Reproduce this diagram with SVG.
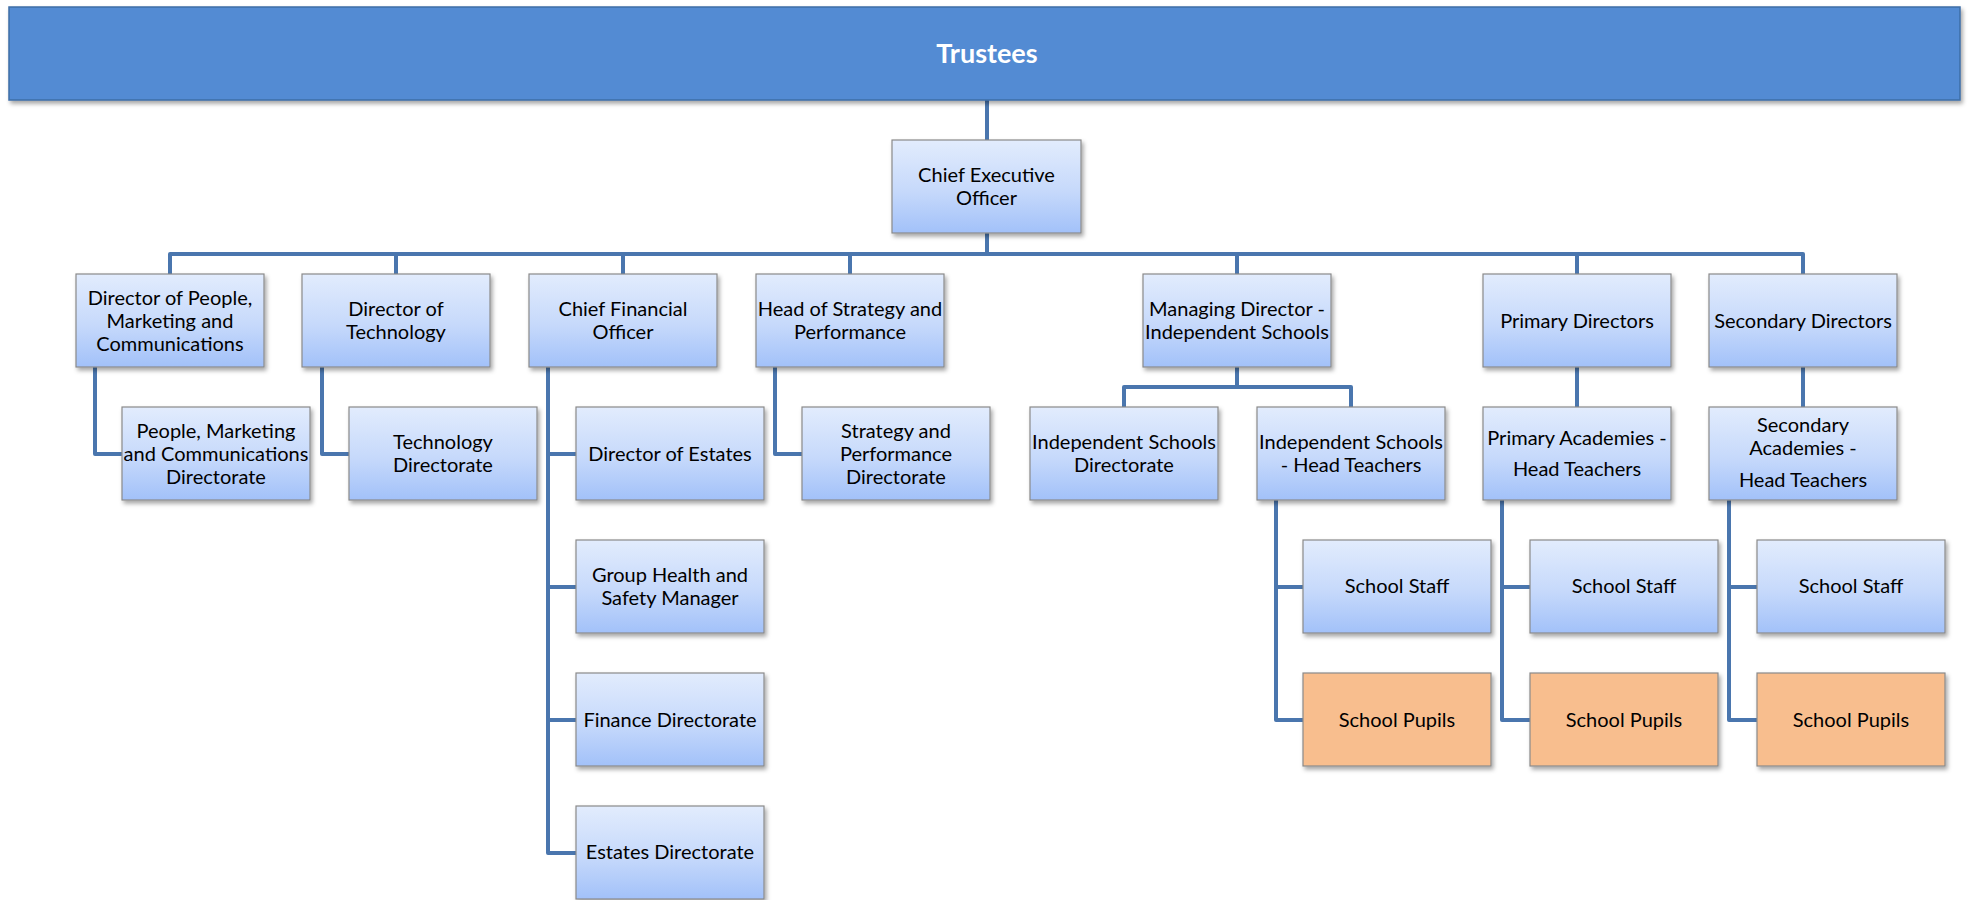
<svg xmlns="http://www.w3.org/2000/svg" width="1968" height="900" viewBox="0 0 1968 900">
  <defs>
    <linearGradient id="boxFill" x1="0" y1="0" x2="0" y2="1">
      <stop offset="0" stop-color="#E2ECFD"/>
      <stop offset="0.55" stop-color="#C6D9FB"/>
      <stop offset="1" stop-color="#A2C1F9"/>
    </linearGradient>
    <filter id="shadow" x="-10%" y="-10%" width="125%" height="135%">
      <feDropShadow dx="2" dy="3" stdDeviation="2" flood-color="#000" flood-opacity="0.35"/>
    </filter>
    <style>
      .box { fill: url(#boxFill); stroke: #8A8A8A; stroke-width: 1.2; filter: url(#shadow); }
      .pupils { fill: #F8BE8E; stroke: #8A8A8A; stroke-width: 1.2; filter: url(#shadow); }
      .top { fill: #538BD3; stroke: #3E6EA6; stroke-width: 1.5; filter: url(#shadow); }
      .lbl { font-family: Lato, "Liberation Sans", sans-serif; font-size: 20px; fill: #000; text-anchor: middle; }
      .title { font-family: Lato, "Liberation Sans", sans-serif; font-size: 27px; font-weight: bold; fill: #FFF; text-anchor: middle; }
      .wire { fill: none; stroke: #4A76AE; stroke-width: 4; stroke-linejoin: round; }
    </style>
  </defs>
  <rect width="1968" height="900" fill="#FFF"/>

  <!-- reporting lines, drawn under the boxes -->
  <g id="connectors" class="wire">
    <path d="M987,100 V140"/>
    <path d="M987,233 V254"/>
    <path d="M170,274 V254 H1803 V274"/>
    <path d="M396,254 V274 M623,254 V274 M850,254 V274 M1237,254 V274 M1577,254 V274"/>
    <path d="M95,367 V454 H122"/>
    <path d="M322,367 V454 H349"/>
    <path d="M548,367 V853 H576 M548,454 H576 M548,587 H576 M548,720 H576"/>
    <path d="M775,367 V454 H802"/>
    <path d="M1237,367 V387"/>
    <path d="M1124,407 V387 H1351 V407"/>
    <path d="M1577,367 V407"/>
    <path d="M1803,367 V407"/>
    <path d="M1276,500 V720 H1303 M1276,587 H1303"/>
    <path d="M1502,500 V720 H1530 M1502,587 H1530"/>
    <path d="M1729,500 V720 H1757 M1729,587 H1757"/>
  </g>

  <g id="trustees">
    <rect class="top" x="9" y="7" width="1951" height="93"/>
    <text class="title" x="987" y="63">Trustees</text>
  </g>

  <g id="ceo">
    <rect class="box" x="892" y="140" width="189" height="93"/>
    <text class="lbl" x="986.5" y="182"><tspan x="986.5">Chief Executive</tspan><tspan x="986.5" dy="23">Officer</tspan></text>
  </g>

  <!-- directors -->
  <g id="dir-people">
    <rect class="box" x="76" y="274" width="188" height="93"/>
    <text class="lbl" y="305"><tspan x="170">Director of People,</tspan><tspan x="170" dy="23">Marketing and</tspan><tspan x="170" dy="23">Communications</tspan></text>
  </g>
  <g id="dir-technology">
    <rect class="box" x="302" y="274" width="188" height="93"/>
    <text class="lbl" y="316"><tspan x="396">Director of</tspan><tspan x="396" dy="23">Technology</tspan></text>
  </g>
  <g id="cfo">
    <rect class="box" x="529" y="274" width="188" height="93"/>
    <text class="lbl" y="316"><tspan x="623">Chief Financial</tspan><tspan x="623" dy="23">Officer</tspan></text>
  </g>
  <g id="head-strategy">
    <rect class="box" x="756" y="274" width="188" height="93"/>
    <text class="lbl" y="316"><tspan x="850">Head of Strategy and</tspan><tspan x="850" dy="23">Performance</tspan></text>
  </g>
  <g id="md-independent">
    <rect class="box" x="1143" y="274" width="188" height="93"/>
    <text class="lbl" y="316"><tspan x="1237">Managing Director -</tspan><tspan x="1237" dy="23">Independent Schools</tspan></text>
  </g>
  <g id="primary-directors">
    <rect class="box" x="1483" y="274" width="188" height="93"/>
    <text class="lbl" x="1577" y="328">Primary Directors</text>
  </g>
  <g id="secondary-directors">
    <rect class="box" x="1709" y="274" width="188" height="93"/>
    <text class="lbl" x="1803" y="328">Secondary Directors</text>
  </g>

  <!-- second tier -->
  <g id="people-directorate">
    <rect class="box" x="122" y="407" width="188" height="93"/>
    <text class="lbl" y="438"><tspan x="216">People, Marketing</tspan><tspan x="216" dy="23">and Communications</tspan><tspan x="216" dy="23">Directorate</tspan></text>
  </g>
  <g id="technology-directorate">
    <rect class="box" x="349" y="407" width="188" height="93"/>
    <text class="lbl" y="449"><tspan x="443">Technology</tspan><tspan x="443" dy="23">Directorate</tspan></text>
  </g>
  <g id="director-estates">
    <rect class="box" x="576" y="407" width="188" height="93"/>
    <text class="lbl" x="670" y="461">Director of Estates</text>
  </g>
  <g id="strategy-directorate">
    <rect class="box" x="802" y="407" width="188" height="93"/>
    <text class="lbl" y="438"><tspan x="896">Strategy and</tspan><tspan x="896" dy="23">Performance</tspan><tspan x="896" dy="23">Directorate</tspan></text>
  </g>
  <g id="independent-directorate">
    <rect class="box" x="1030" y="407" width="188" height="93"/>
    <text class="lbl" y="449"><tspan x="1124">Independent Schools</tspan><tspan x="1124" dy="23">Directorate</tspan></text>
  </g>
  <g id="independent-heads">
    <rect class="box" x="1257" y="407" width="188" height="93"/>
    <text class="lbl" y="449"><tspan x="1351">Independent Schools</tspan><tspan x="1351" dy="23">- Head Teachers</tspan></text>
  </g>
  <g id="primary-heads">
    <rect class="box" x="1483" y="407" width="188" height="93"/>
    <text class="lbl" y="445"><tspan x="1577">Primary Academies -</tspan><tspan x="1577" dy="31">Head Teachers</tspan></text>
  </g>
  <g id="secondary-heads">
    <rect class="box" x="1709" y="407" width="188" height="93"/>
    <text class="lbl" y="432"><tspan x="1803">Secondary</tspan><tspan x="1803" dy="23">Academies -</tspan><tspan x="1803" dy="32">Head Teachers</tspan></text>
  </g>

  <!-- finance branch -->
  <g id="health-safety">
    <rect class="box" x="576" y="540" width="188" height="93"/>
    <text class="lbl" y="582"><tspan x="670">Group Health and</tspan><tspan x="670" dy="23">Safety Manager</tspan></text>
  </g>
  <g id="finance-directorate">
    <rect class="box" x="576" y="673" width="188" height="93"/>
    <text class="lbl" x="670" y="727">Finance Directorate</text>
  </g>
  <g id="estates-directorate">
    <rect class="box" x="576" y="806" width="188" height="93"/>
    <text class="lbl" x="670" y="859">Estates Directorate</text>
  </g>

  <!-- schools -->
  <g id="independent-staff">
    <rect class="box" x="1303" y="540" width="188" height="93"/>
    <text class="lbl" x="1397" y="593">School Staff</text>
  </g>
  <g id="independent-pupils">
    <rect class="pupils" x="1303" y="673" width="188" height="93"/>
    <text class="lbl" x="1397" y="727">School Pupils</text>
  </g>
  <g id="primary-staff">
    <rect class="box" x="1530" y="540" width="188" height="93"/>
    <text class="lbl" x="1624" y="593">School Staff</text>
  </g>
  <g id="primary-pupils">
    <rect class="pupils" x="1530" y="673" width="188" height="93"/>
    <text class="lbl" x="1624" y="727">School Pupils</text>
  </g>
  <g id="secondary-staff">
    <rect class="box" x="1757" y="540" width="188" height="93"/>
    <text class="lbl" x="1851" y="593">School Staff</text>
  </g>
  <g id="secondary-pupils">
    <rect class="pupils" x="1757" y="673" width="188" height="93"/>
    <text class="lbl" x="1851" y="727">School Pupils</text>
  </g>
</svg>
